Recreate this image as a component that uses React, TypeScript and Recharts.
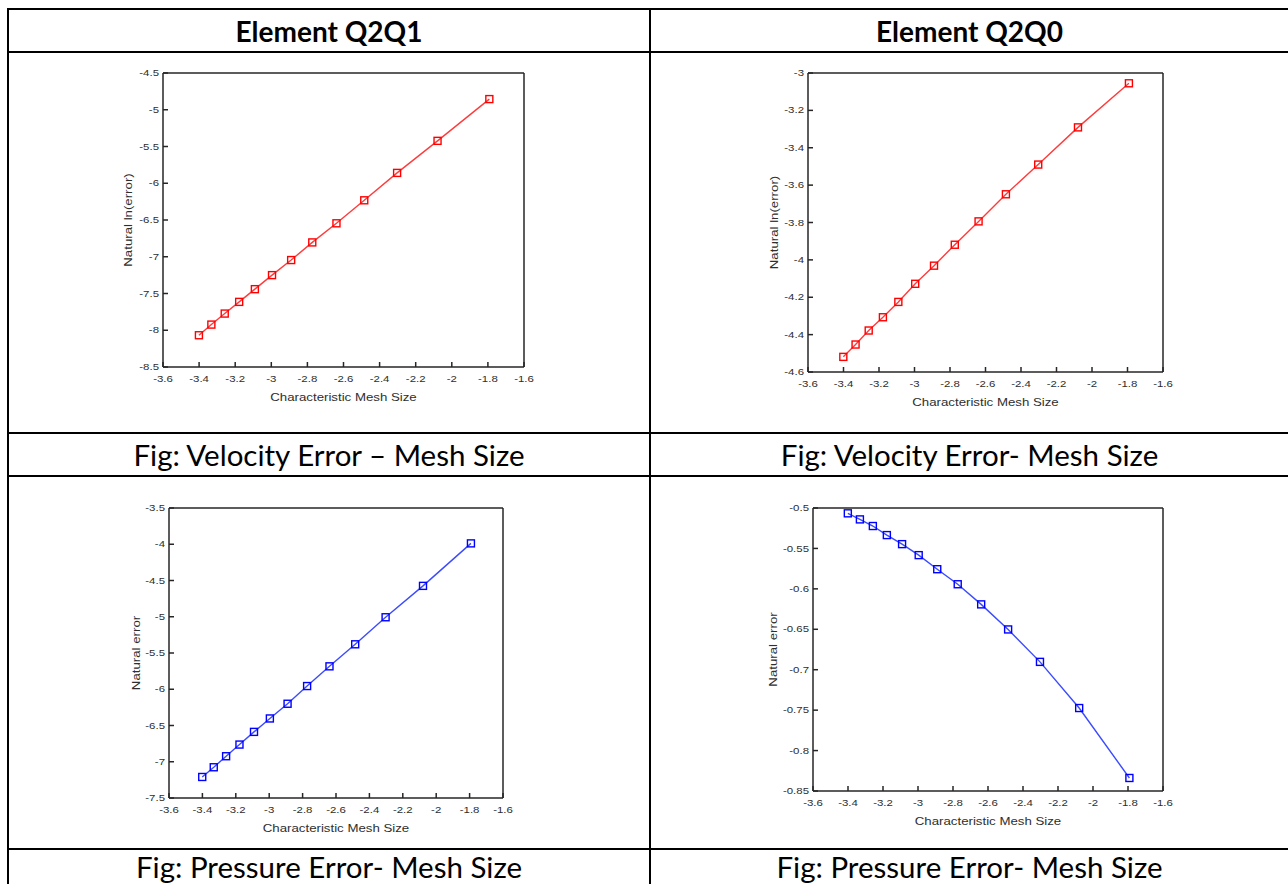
import { LineChart, Line, XAxis, YAxis, Label } from 'recharts'

// ln(h) for the mesh sequence, shared by all four plots
const meshSize = [-3.401, -3.332, -3.258, -3.178, -3.091, -2.996, -2.89, -2.773, -2.639, -2.485, -2.303, -2.079, -1.792]

const velocityQ2Q1 = [-8.068, -7.923, -7.773, -7.614, -7.441, -7.25, -7.045, -6.805, -6.545, -6.232, -5.859, -5.423, -4.855]
const velocityQ2Q0 = [-4.519, -4.453, -4.378, -4.307, -4.225, -4.128, -4.031, -3.919, -3.794, -3.649, -3.49, -3.291, -3.055]
const pressureQ2Q1 = [-7.21, -7.076, -6.924, -6.763, -6.588, -6.403, -6.2, -5.956, -5.684, -5.38, -5.007, -4.574, -3.988]
const pressureQ2Q0 = [-0.5066, -0.5141, -0.5223, -0.5335, -0.5447, -0.5583, -0.5757, -0.5943, -0.6192, -0.6502, -0.6903, -0.7474, -0.8339]

const xTicks = [-3.6, -3.4, -3.2, -3, -2.8, -2.6, -2.4, -2.2, -2, -1.8, -1.6]
const yTicksVelQ2Q1 = [-8.5, -8, -7.5, -7, -6.5, -6, -5.5, -5, -4.5]
const yTicksVelQ2Q0 = [-4.6, -4.4, -4.2, -4, -3.8, -3.6, -3.4, -3.2, -3]
const yTicksPresQ2Q1 = [-7.5, -7, -6.5, -6, -5.5, -5, -4.5, -4, -3.5]
const yTicksPresQ2Q0 = [-0.85, -0.8, -0.75, -0.7, -0.65, -0.6, -0.55, -0.5]

const headers = ['Element Q2Q1', 'Element Q2Q0']
const captionsTop = ['Fig: Velocity Error \u2013 Mesh Size', 'Fig: Velocity Error- Mesh Size']
const captionsBottom = ['Fig: Pressure Error- Mesh Size', 'Fig: Pressure Error- Mesh Size']

const AXIS = '#262626'
const TICK_TEXT = '#2e2e2e'
const STRETCH = 1.3
const FONT = '"Liberation Sans", Arial, sans-serif'

type Box = { left: number; top: number; right: number; bottom: number }

function XTick(props: any) {
  const { x, y, payload } = props
  return (
    <g transform={`translate(${x},${y}) scale(${STRETCH},1)`}>
      <text x={0} y={0} dy="0.71em" textAnchor="middle" fontSize={8.8} fontFamily={FONT} fill={TICK_TEXT}>
        {String(payload.value)}
      </text>
    </g>
  )
}

function YTick(props: any) {
  const { x, y, payload } = props
  return (
    <g transform={`translate(${x},${y}) scale(${STRETCH},1)`}>
      <text x={0} y={0} dy="0.35em" textAnchor="end" fontSize={8.8} fontFamily={FONT} fill={TICK_TEXT}>
        {String(payload.value)}
      </text>
    </g>
  )
}

function Panel({
  cell,
  plot,
  values,
  color,
  lineColor,
  yDomain,
  yTicks,
  yTitle,
  yTitleOffset,
}: {
  cell: Box
  plot: Box
  values: number[]
  color: string
  lineColor: string
  yDomain: [number, number]
  yTicks: number[]
  yTitle: string
  yTitleOffset: number
}) {
  const data = meshSize.map((x, i) => ({ x, y: values[i] }))
  const width = cell.right - cell.left
  const height = cell.bottom - cell.top
  const yAxisW = 60
  const xAxisH = 50
  // top / right axes only carry the inward ticks that close the box
  const margin = {
    top: plot.top - cell.top - 1,
    left: plot.left - cell.left - yAxisW,
    right: cell.right - plot.right - 1,
    bottom: cell.bottom - plot.bottom - xAxisH,
  }

  const square = (p: any) => {
    const { cx, cy, index } = p
    return <rect key={`sq-${index}`} x={cx - 3.5} y={cy - 3.5} width={7} height={7} fill="none" stroke={color} strokeWidth={1.4} />
  }

  const xTitle = (p: any) => {
    const vb = p.viewBox
    const cx = vb.x + vb.width / 2
    const cy = vb.y + 30
    return (
      <g transform={`translate(${cx},${cy}) scale(${STRETCH},1)`}>
        <text x={0} y={0} dy="0.35em" textAnchor="middle" fontSize={10.2} fontFamily={FONT} fill={TICK_TEXT}>
          Characteristic Mesh Size
        </text>
      </g>
    )
  }

  const yTitleRender = (p: any) => {
    const vb = p.viewBox
    const cx = vb.x + vb.width - yTitleOffset
    const cy = vb.y + vb.height / 2
    return (
      <g transform={`translate(${cx},${cy}) rotate(-90) scale(${STRETCH},1)`}>
        <text x={0} y={0} dy="0.35em" textAnchor="middle" fontSize={10.2} fontFamily={FONT} fill={TICK_TEXT}>
          {yTitle}
        </text>
      </g>
    )
  }

  return (
    <div style={{ position: 'absolute', left: cell.left, top: cell.top }}>
      <LineChart width={width} height={height} data={data} margin={margin}>
        <XAxis
          xAxisId="b"
          dataKey="x"
          type="number"
          domain={[-3.6, -1.6]}
          ticks={xTicks}
          allowDataOverflow
          height={xAxisH}
          stroke={AXIS}
          strokeWidth={1.5}
          tickSize={-5}
          tickMargin={14}
          tick={XTick}
          interval={0}
        >
          <Label content={xTitle} />
        </XAxis>
        <XAxis
          xAxisId="t"
          orientation="top"
          dataKey="x"
          type="number"
          domain={[-3.6, -1.6]}
          ticks={xTicks}
          allowDataOverflow
          height={1}
          stroke={AXIS}
          strokeWidth={1.5}
          tickSize={-5}
          tick={false}
          interval={0}
        />
        <YAxis
          yAxisId="l"
          type="number"
          domain={yDomain}
          ticks={yTicks}
          allowDataOverflow
          width={yAxisW}
          stroke={AXIS}
          strokeWidth={1.5}
          tickSize={-5}
          tickMargin={9}
          tick={YTick}
          interval={0}
        >
          <Label content={yTitleRender} />
        </YAxis>
        <YAxis
          yAxisId="r"
          orientation="right"
          type="number"
          domain={yDomain}
          ticks={yTicks}
          allowDataOverflow
          width={1}
          stroke={AXIS}
          strokeWidth={1.5}
          tickSize={-5}
          tick={false}
          interval={0}
        />
        <Line
          xAxisId="t"
          yAxisId="r"
          dataKey="y"
          stroke="none"
          dot={false}
          activeDot={false}
          isAnimationActive={false}
        />
        <Line
          xAxisId="b"
          yAxisId="l"
          dataKey="y"
          stroke={lineColor}
          strokeWidth={1.4}
          dot={square}
          activeDot={false}
          isAnimationActive={false}
        />
      </LineChart>
    </div>
  )
}

const textCell = (left: number, top: number, width: number, height: number, text: string, bold: boolean) => (
  <div
    style={{
      position: 'absolute',
      left,
      top,
      width,
      height,
      display: 'flex',
      alignItems: 'center',
      justifyContent: 'center',
      fontFamily: 'Lato, "Open Sans", sans-serif',
      fontWeight: bold ? 700 : 400,
      fontSize: bold ? 28 : 29.5,
      color: '#000',
      whiteSpace: 'nowrap',
    }}
  >
    {text}
  </div>
)

const hLine = (top: number) => (
  <div style={{ position: 'absolute', left: 7, top, width: 1290, height: 2, background: '#000' }} />
)
const vLine = (left: number) => (
  <div style={{ position: 'absolute', left, top: 8, width: 2, height: 890, background: '#000' }} />
)

export default function App() {
  return (
    <div
      style={{
        position: 'absolute',
        left: 0,
        top: 0,
        width: 1288,
        height: 884,
        overflow: 'hidden',
        background: '#fff',
      }}
    >
      {hLine(8)}
      {hLine(51)}
      {hLine(432)}
      {hLine(475)}
      {hLine(848)}
      {vLine(7)}
      {vLine(649)}

      {textCell(9, 10, 640, 41, headers[0], true)}
      {textCell(651, 10, 637, 41, headers[1], true)}
      {textCell(9, 434, 640, 41, captionsTop[0], false)}
      {textCell(651, 434, 637, 41, captionsTop[1], false)}
      {textCell(9, 849, 640, 34, captionsBottom[0], false)}
      {textCell(651, 849, 637, 34, captionsBottom[1], false)}

      <Panel
        cell={{ left: 9, top: 53, right: 649, bottom: 432 }}
        plot={{ left: 163, top: 73, right: 524, bottom: 367 }}
        values={velocityQ2Q1}
        color="#ff0000"
        lineColor="#ff3b3b"
        yDomain={[-8.5, -4.5]}
        yTicks={yTicksVelQ2Q1}
        yTitle="Natural ln(error)"
        yTitleOffset={35}
      />
      <Panel
        cell={{ left: 651, top: 53, right: 1288, bottom: 432 }}
        plot={{ left: 808, top: 73, right: 1163, bottom: 372 }}
        values={velocityQ2Q0}
        color="#ff0000"
        lineColor="#ff3b3b"
        yDomain={[-4.6, -3]}
        yTicks={yTicksVelQ2Q0}
        yTitle="Natural ln(error)"
        yTitleOffset={34}
      />
      <Panel
        cell={{ left: 9, top: 477, right: 649, bottom: 848 }}
        plot={{ left: 169, top: 508, right: 503, bottom: 798 }}
        values={pressureQ2Q1}
        color="#0000ff"
        lineColor="#3b4bff"
        yDomain={[-7.5, -3.5]}
        yTicks={yTicksPresQ2Q1}
        yTitle="Natural error"
        yTitleOffset={33}
      />
      <Panel
        cell={{ left: 651, top: 477, right: 1288, bottom: 848 }}
        plot={{ left: 813, top: 508, right: 1163, bottom: 791 }}
        values={pressureQ2Q0}
        color="#0000ff"
        lineColor="#3b4bff"
        yDomain={[-0.85, -0.5]}
        yTicks={yTicksPresQ2Q0}
        yTitle="Natural error"
        yTitleOffset={40}
      />
    </div>
  )
}
